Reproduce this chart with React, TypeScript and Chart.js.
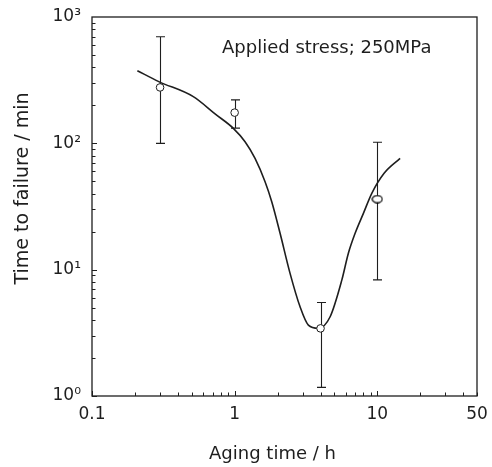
import React, { useEffect, useRef } from "react";
import { Chart, registerables } from "chart.js";
Chart.register(...registerables);

// Fitted curve
const curveX = [0.208, 0.294, 0.513, 0.729, 0.979, 1.183, 1.39, 1.634, 1.82, 2.08, 2.446, 2.875, 3.287, 3.86, 4.67, 5.64, 6.27, 6.99, 7.99, 9.15, 11.16, 14.45];
const curveY = [376, 308, 234, 171, 131.5, 103, 76, 49.7, 34.5, 19.5, 9.35, 5.08, 3.64, 3.43, 4.24, 8.27, 13.5, 19.4, 27.9, 40.2, 57.9, 76];

// Measured points with error bars
const agingTime = [0.3, 1, 4, 10];
const timeToFailure = [277, 175, 3.43, 36.2];
const errLow = [100, 132, 1.17, 8.3];
const errHigh = [698, 221, 5.5, 102];

// Axis ticks
const xTicks = [0.1, 1, 10, 50];
const xTickLabels = ["0.1", "1", "10", "50"];
const yTicks = [1, 10, 100, 1000];
const yTickLabels = ["10⁰", "10¹", "10²", "10³"];

const xTitle = "Aging time / h";
const yTitle = "Time to failure / min";
const note = "Applied stress; 250MPa";

const INK = "#1e1e1e";
const FONT = "'DejaVu Sans', sans-serif";

function makeEllipse(): HTMLCanvasElement {
  const c = document.createElement("canvas");
  c.width = 12;
  c.height = 9;
  const g = c.getContext("2d")!;
  g.beginPath();
  g.ellipse(6, 4.5, 5, 3.6, 0, 0, Math.PI * 2);
  g.fillStyle = "#fff";
  g.fill();
  g.strokeStyle = "#000";
  g.lineWidth = 1.2;
  g.stroke();
  return c;
}

export default function App() {
  const ref = useRef<HTMLCanvasElement>(null);
  useEffect(() => {
    const canvas = ref.current!;
    const decor = {
      id: "decor",
      beforeDatasetsDraw(chart: any) {
        const { ctx, scales } = chart;
        const x = scales.x, y = scales.y;
        ctx.save();
        ctx.strokeStyle = INK;
        ctx.lineWidth = 1.1;
        agingTime.forEach((t, i) => {
          const px = Math.round(x.getPixelForValue(t)) + 0.5;
          const y1 = y.getPixelForValue(errLow[i]);
          const y2 = y.getPixelForValue(errHigh[i]);
          ctx.beginPath();
          ctx.moveTo(px, y1);
          ctx.lineTo(px, y2);
          ctx.moveTo(px - 4.5, y1);
          ctx.lineTo(px + 4.5, y1);
          ctx.moveTo(px - 4.5, y2);
          ctx.lineTo(px + 4.5, y2);
          ctx.stroke();
        });
        ctx.restore();
      },
      afterDraw(chart: any) {
        const { ctx, chartArea: a, scales } = chart;
        const x = scales.x, y = scales.y;
        ctx.save();
        ctx.strokeStyle = INK;
        ctx.lineWidth = 1.3;
        ctx.strokeRect(a.left, a.top, a.right - a.left, a.bottom - a.top);
        ctx.lineWidth = 1;
        // x ticks (inward)
        ctx.beginPath();
        for (let d = 0.1; d < 60; d *= 10) {
          for (let m = 1; m <= 9; m++) {
            const v = d * m;
            if (v > 50.0001) break;
            const px = Math.round(x.getPixelForValue(v)) + 0.5;
            const len = m === 1 ? 5 : 3.5;
            ctx.moveTo(px, a.bottom);
            ctx.lineTo(px, a.bottom - len);
          }
        }
        // y ticks (inward)
        for (let d = 1; d < 1000; d *= 10) {
          for (let m = 1; m <= 9; m++) {
            const v = d * m;
            const py = Math.round(y.getPixelForValue(v)) + 0.5;
            const len = m === 1 ? 5 : 3.5;
            ctx.moveTo(a.left, py);
            ctx.lineTo(a.left + len, py);
          }
        }
        ctx.stroke();
        // titles
        ctx.fillStyle = INK;
        ctx.font = `18px ${FONT}`;
        ctx.textAlign = "center";
        ctx.textBaseline = "middle";
        ctx.fillText(xTitle, (a.left + a.right) / 2 - 12, a.bottom + 58);
        ctx.save();
        ctx.translate(a.left - 69, (a.top + a.bottom) / 2 - 18);
        ctx.rotate(-Math.PI / 2);
        ctx.font = `19px ${FONT}`;
        ctx.fillText(yTitle, 0, 0);
        ctx.restore();
        ctx.textAlign = "left";
        ctx.textBaseline = "alphabetic";
        ctx.font = `18px ${FONT}`;
        ctx.fillText(note, a.left + 130, a.top + 36);
        ctx.restore();
      },
    };

    const noPad = (s: any) => {
      s.paddingTop = 0;
      s.paddingBottom = 0;
      s.paddingLeft = 0;
      s.paddingRight = 0;
    };

    const chart = new Chart(canvas, {
      type: "scatter",
      data: {
        datasets: [
          {
            data: agingTime.map((t, i) => ({ x: t, y: timeToFailure[i] })),
            showLine: false,
            pointRadius: 3.8,
            pointBackgroundColor: "#fff",
            pointBorderColor: INK,
            pointBorderWidth: 1,
            pointStyle: ["circle", "circle", "circle", makeEllipse()] as any,
          },
          {
            data: curveX.map((v, i) => ({ x: v, y: curveY[i] })),
            showLine: true,
            pointRadius: 0,
            borderColor: INK,
            borderWidth: 1.6,
            cubicInterpolationMode: "monotone",
          },
        ],
      },
      options: {
        animation: false,
        responsive: false,
        maintainAspectRatio: false,
        events: [],
        layout: { padding: { left: 0, top: 17, right: 15, bottom: 0 } },
        plugins: { legend: { display: false }, tooltip: { enabled: false } },
        scales: {
          x: {
            type: "logarithmic",
            min: 0.1,
            max: 50,
            afterBuildTicks: (s: any) => {
              s.ticks = xTicks.map((v) => ({ value: v }));
            },
            afterFit: (s: any) => {
              s.height = 71;
              noPad(s);
            },
            grid: { display: false, drawTicks: false },
            border: { display: false },
            ticks: {
              color: INK,
              font: { family: FONT, size: 17 },
              padding: 8,
              maxRotation: 0,
              autoSkip: false,
              callback: (v: any, i: number) => xTickLabels[i],
            },
          },
          y: {
            type: "logarithmic",
            min: 1,
            max: 1000,
            afterBuildTicks: (s: any) => {
              s.ticks = yTicks.map((v) => ({ value: v }));
            },
            afterFit: (s: any) => {
              s.width = 92;
              noPad(s);
            },
            grid: { display: false, drawTicks: false },
            border: { display: false },
            ticks: {
              color: INK,
              font: { family: FONT, size: 17 },
              padding: 11,
              autoSkip: false,
              callback: (v: any, i: number) => yTickLabels[i],
            },
          },
        },
      },
      plugins: [decor],
    });
    return () => chart.destroy();
  }, []);
  return (
    <div style={{ position: "absolute", left: 0, top: 0, width: 492, height: 467, background: "#fff" }}>
      <canvas ref={ref} width={492} height={467} style={{ display: "block", width: 492, height: 467 }} />
    </div>
  );
}
